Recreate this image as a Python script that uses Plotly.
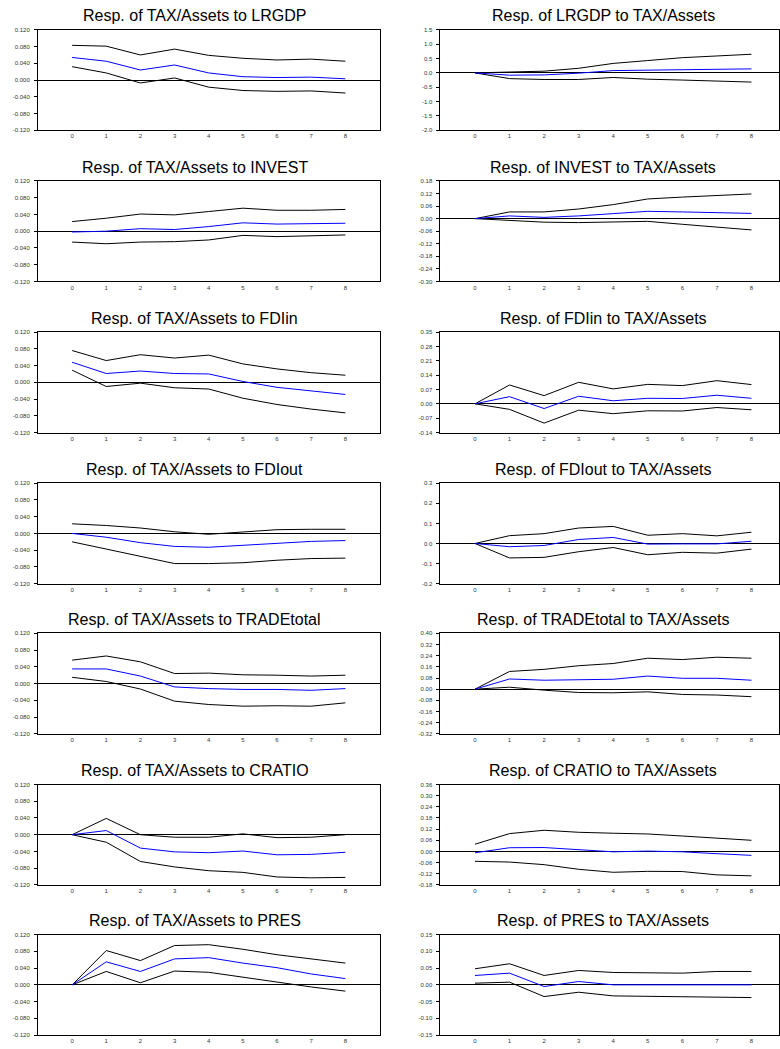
import plotly.graph_objects as go

steps = [0, 1, 2, 3, 4, 5, 6, 7, 8]

# ---- panel titles ----
titles = [
    "Resp. of TAX/Assets to LRGDP", "Resp. of LRGDP to TAX/Assets",
    "Resp. of TAX/Assets to INVEST", "Resp. of INVEST to TAX/Assets",
    "Resp. of TAX/Assets to FDIin", "Resp. of FDIin to TAX/Assets",
    "Resp. of TAX/Assets to FDIout", "Resp. of FDIout to TAX/Assets",
    "Resp. of TAX/Assets to TRADEtotal", "Resp. of TRADEtotal to TAX/Assets",
    "Resp. of TAX/Assets to CRATIO", "Resp. of CRATIO to TAX/Assets",
    "Resp. of TAX/Assets to PRES", "Resp. of PRES to TAX/Assets",
]

# ---- y tick labels per panel ----
ticks_tax = ["0.120", "0.080", "0.040", "0.000", "-0.040", "-0.080", "-0.120"]
ticks_lrgdp = ["1.5", "1.0", "0.5", "0.0", "-0.5", "-1.0", "-1.5", "-2.0"]
ticks_invest = ["0.18", "0.12", "0.06", "0.00", "-0.06", "-0.12", "-0.18", "-0.24", "-0.30"]
ticks_fdiin = ["0.35", "0.28", "0.21", "0.14", "0.07", "0.00", "-0.07", "-0.14"]
ticks_fdiout = ["0.3", "0.2", "0.1", "0.0", "-0.1", "-0.2"]
ticks_trade = ["0.40", "0.32", "0.24", "0.16", "0.08", "0.00", "-0.08", "-0.16", "-0.24", "-0.32"]
ticks_cratio = ["0.36", "0.30", "0.24", "0.18", "0.12", "0.06", "0.00", "-0.06", "-0.12", "-0.18"]
ticks_pres = ["0.15", "0.10", "0.05", "0.00", "-0.05", "-0.10", "-0.15"]

# ---- series: upper band, response, lower band ----
up_1 = [0.083, 0.081, 0.060, 0.074, 0.059, 0.052, 0.048, 0.050, 0.045]
irf_1 = [0.054, 0.045, 0.024, 0.036, 0.017, 0.008, 0.006, 0.007, 0.003]
lo_1 = [0.032, 0.017, -0.007, 0.005, -0.017, -0.025, -0.027, -0.026, -0.031]

up_2 = [0.0, 0.02, 0.06, 0.16, 0.33, 0.43, 0.53, 0.59, 0.65]
irf_2 = [0.0, -0.08, -0.07, -0.01, 0.08, 0.09, 0.12, 0.13, 0.14]
lo_2 = [0.0, -0.20, -0.23, -0.23, -0.16, -0.22, -0.25, -0.29, -0.32]

up_3 = [0.023, 0.031, 0.041, 0.039, 0.047, 0.055, 0.050, 0.050, 0.052]
irf_3 = [-0.002, 0.000, 0.006, 0.004, 0.011, 0.020, 0.017, 0.018, 0.019]
lo_3 = [-0.026, -0.030, -0.026, -0.025, -0.021, -0.010, -0.013, -0.011, -0.009]

up_4 = [0.0, 0.032, 0.032, 0.046, 0.067, 0.094, 0.103, 0.110, 0.118]
irf_4 = [0.0, 0.013, 0.006, 0.013, 0.024, 0.035, 0.032, 0.030, 0.025]
lo_4 = [0.0, -0.008, -0.017, -0.019, -0.016, -0.013, -0.027, -0.040, -0.054]

up_5 = [0.076, 0.052, 0.066, 0.058, 0.065, 0.044, 0.032, 0.023, 0.017]
irf_5 = [0.048, 0.021, 0.027, 0.021, 0.020, 0.002, -0.012, -0.021, -0.029]
lo_5 = [0.029, -0.010, -0.002, -0.013, -0.016, -0.038, -0.053, -0.064, -0.073]

up_6 = [0.0, 0.092, 0.040, 0.105, 0.073, 0.095, 0.089, 0.113, 0.094]
irf_6 = [0.0, 0.035, -0.023, 0.037, 0.015, 0.027, 0.026, 0.042, 0.027]
lo_6 = [0.0, -0.027, -0.094, -0.031, -0.048, -0.034, -0.035, -0.018, -0.029]

up_7 = [0.023, 0.019, 0.013, 0.004, -0.002, 0.004, 0.009, 0.010, 0.010]
irf_7 = [0.000, -0.009, -0.022, -0.031, -0.033, -0.028, -0.023, -0.019, -0.017]
lo_7 = [-0.020, -0.037, -0.054, -0.072, -0.072, -0.070, -0.064, -0.060, -0.059]

up_8 = [0.0, 0.039, 0.049, 0.077, 0.085, 0.041, 0.049, 0.038, 0.056]
irf_8 = [0.0, -0.016, -0.010, 0.020, 0.030, -0.003, -0.002, -0.002, 0.011]
lo_8 = [0.0, -0.072, -0.069, -0.041, -0.020, -0.056, -0.044, -0.048, -0.028]

up_9 = [0.056, 0.066, 0.052, 0.024, 0.025, 0.021, 0.020, 0.018, 0.020]
irf_9 = [0.035, 0.035, 0.018, -0.008, -0.012, -0.014, -0.014, -0.016, -0.012]
lo_9 = [0.015, 0.005, -0.013, -0.042, -0.050, -0.054, -0.053, -0.054, -0.046]

up_10 = [0.0, 0.127, 0.142, 0.168, 0.184, 0.222, 0.212, 0.229, 0.222]
irf_10 = [0.0, 0.073, 0.064, 0.066, 0.071, 0.094, 0.078, 0.078, 0.064]
lo_10 = [0.0, 0.014, -0.007, -0.024, -0.026, -0.019, -0.038, -0.042, -0.054]

up_11 = [0.0, 0.039, 0.000, -0.006, -0.006, 0.002, -0.007, -0.006, 0.000]
irf_11 = [0.0, 0.010, -0.032, -0.041, -0.043, -0.039, -0.048, -0.047, -0.042]
lo_11 = [0.0, -0.018, -0.064, -0.077, -0.086, -0.090, -0.101, -0.103, -0.102]

up_12 = [0.039, 0.096, 0.114, 0.103, 0.098, 0.094, 0.083, 0.071, 0.060]
irf_12 = [-0.007, 0.020, 0.021, 0.009, -0.002, 0.002, -0.002, -0.012, -0.021]
lo_12 = [-0.053, -0.057, -0.071, -0.096, -0.112, -0.107, -0.108, -0.126, -0.131]

up_13 = [0.0, 0.082, 0.058, 0.094, 0.096, 0.085, 0.072, 0.062, 0.052]
irf_13 = [0.0, 0.055, 0.032, 0.062, 0.065, 0.052, 0.041, 0.026, 0.015]
lo_13 = [0.0, 0.032, 0.005, 0.033, 0.030, 0.018, 0.006, -0.005, -0.015]

up_14 = [0.048, 0.063, 0.028, 0.043, 0.037, 0.037, 0.035, 0.040, 0.040]
irf_14 = [0.028, 0.035, -0.005, 0.010, 0.000, 0.000, -0.002, 0.000, 0.000]
lo_14 = [0.005, 0.008, -0.035, -0.022, -0.033, -0.034, -0.036, -0.036, -0.038]

panels = [
    (ticks_tax, up_1, irf_1, lo_1), (ticks_lrgdp, up_2, irf_2, lo_2),
    (ticks_tax, up_3, irf_3, lo_3), (ticks_invest, up_4, irf_4, lo_4),
    (ticks_tax, up_5, irf_5, lo_5), (ticks_fdiin, up_6, irf_6, lo_6),
    (ticks_tax, up_7, irf_7, lo_7), (ticks_fdiout, up_8, irf_8, lo_8),
    (ticks_tax, up_9, irf_9, lo_9), (ticks_trade, up_10, irf_10, lo_10),
    (ticks_tax, up_11, irf_11, lo_11), (ticks_cratio, up_12, irf_12, lo_12),
    (ticks_tax, up_13, irf_13, lo_13), (ticks_pres, up_14, irf_14, lo_14),
]

W, H = 780, 1049
row_tops = [27, 179, 331, 483, 634, 786, 937]
plot_h = 101
left_px = (38, 380)
right_px = (441, 780)
title_cx = (195, 604)

fig = go.Figure()
layout = dict(
    width=W, height=H, margin=dict(l=0, r=0, t=0, b=0),
    paper_bgcolor="white", plot_bgcolor="white", showlegend=False,
    font=dict(family="Liberation Sans, Arial, sans-serif", color="black"),
)
annotations = []

for i, (ticks, up, irf, lo) in enumerate(panels):
    k = i + 1
    row, col = divmod(i, 2)
    xs = "x" if k == 1 else f"x{k}"
    ys = "y" if k == 1 else f"y{k}"
    for series, color in ((up, "black"), (lo, "black"), (irf, "#0000ff")):
        fig.add_trace(go.Scatter(x=steps, y=series, mode="lines",
                                 line=dict(color=color, width=1),
                                 xaxis=xs, yaxis=ys, hoverinfo="skip"))
    px = left_px if col == 0 else right_px
    top = row_tops[row]
    bot = top + plot_h
    xdom = [px[0] / W, px[1] / W]
    ydom = [1 - bot / H, 1 - top / H]
    tvals = [float(t) for t in ticks]
    xr = [-1, 9] if col == 0 else [-1, -1 + (px[1] - px[0]) / 34.6]
    layout["xaxis" if k == 1 else f"xaxis{k}"] = dict(
        domain=xdom, range=xr, anchor=ys, tickvals=steps,
        ticktext=[str(s) for s in steps], ticks="", showgrid=False,
        zeroline=False, showline=True, linecolor="black", linewidth=1,
        mirror=True, tickfont=dict(size=6, color="#333"), fixedrange=True,
    )
    layout["yaxis" if k == 1 else f"yaxis{k}"] = dict(
        domain=ydom, range=[min(tvals), max(tvals)], anchor=xs,
        tickvals=tvals, ticktext=ticks, ticks="outside", ticklen=3,
        tickcolor="black", showgrid=False, zeroline=True,
        zerolinecolor="black", zerolinewidth=1, showline=True,
        linecolor="black", linewidth=1, mirror=True,
        tickfont=dict(size=6, color="#333"), ticklabelstandoff=3,
        fixedrange=True,
    )
    annotations.append(dict(
        text=titles[i], x=title_cx[col] / W, y=1 - (top - 14) / H,
        xref="paper", yref="paper", xanchor="center", yanchor="middle",
        showarrow=False, font=dict(size=16, color="black"),
    ))

layout["annotations"] = annotations
fig.update_layout(**layout)
fig.write_html("out.html",
               config={"displayModeBar": False, "staticPlot": True},
               post_script="document.body.style.margin='0';document.body.style.overflow='hidden';")
